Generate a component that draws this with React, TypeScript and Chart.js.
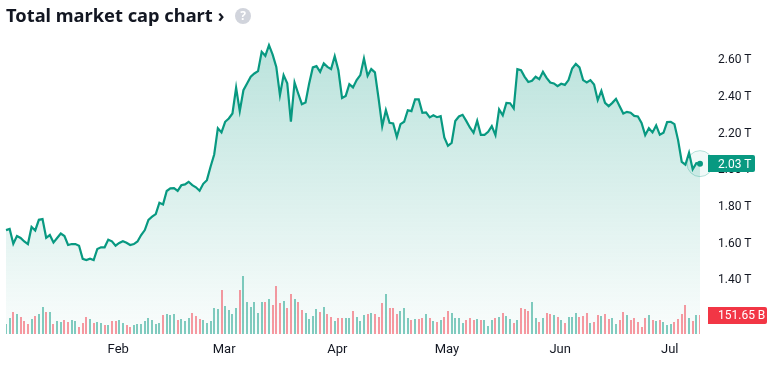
import React, { useEffect, useRef } from "react";
import { Chart, registerables } from "chart.js";

Chart.register(...registerables);

const titleText = "Total market cap chart";
const monthNames = ["Feb", "Mar", "Apr", "May", "Jun", "Jul"];
const monthStarts = [31, 60, 91, 121, 152, 182];
const priceTicks = [1.4, 1.6, 1.8, 2.0, 2.2, 2.4, 2.6];

// Total market cap, trillions (daily)
const marketCap = [
  1.669, 1.675, 1.595, 1.637, 1.626, 1.607, 1.593, 1.686, 1.667, 1.725,
  1.729, 1.627, 1.642, 1.601, 1.626, 1.650, 1.637, 1.588, 1.593, 1.593,
  1.584, 1.512, 1.506, 1.513, 1.506, 1.566, 1.575, 1.575, 1.617, 1.608,
  1.584, 1.599, 1.608, 1.600, 1.588, 1.593, 1.607, 1.642, 1.669, 1.725,
  1.742, 1.756, 1.818, 1.809, 1.882, 1.896, 1.898, 1.883, 1.913, 1.918,
  1.932, 1.914, 1.902, 1.883, 1.921, 1.941, 2.014, 2.081, 2.224, 2.201,
  2.259, 2.277, 2.304, 2.444, 2.317, 2.431, 2.468, 2.504, 2.522, 2.535,
  2.640, 2.618, 2.676, 2.625, 2.558, 2.404, 2.513, 2.468, 2.259, 2.473,
  2.413, 2.355, 2.364, 2.468, 2.555, 2.562, 2.531, 2.577, 2.558, 2.546,
  2.616, 2.540, 2.389, 2.400, 2.464, 2.446, 2.486, 2.513, 2.604, 2.509,
  2.546, 2.528, 2.386, 2.235, 2.322, 2.253, 2.250, 2.177, 2.246, 2.259,
  2.322, 2.317, 2.381, 2.381, 2.308, 2.310, 2.283, 2.294, 2.284, 2.290,
  2.174, 2.128, 2.144, 2.263, 2.288, 2.297, 2.264, 2.228, 2.199, 2.264,
  2.188, 2.188, 2.204, 2.235, 2.186, 2.326, 2.294, 2.362, 2.360, 2.332,
  2.546, 2.540, 2.504, 2.476, 2.482, 2.504, 2.491, 2.531, 2.498, 2.473,
  2.468, 2.453, 2.466, 2.460, 2.486, 2.549, 2.574, 2.555, 2.486, 2.473,
  2.486, 2.462, 2.377, 2.427, 2.362, 2.344, 2.362, 2.384, 2.344, 2.304,
  2.313, 2.308, 2.291, 2.288, 2.253, 2.186, 2.224, 2.201, 2.239, 2.188,
  2.199, 2.257, 2.259, 2.246, 2.159, 2.041, 2.025, 2.090, 2.000, 2.034,
  2.031,
];

// Traded volume, billions (daily)
const volumes = [
  80, 128, 176, 160, 136, 104, 80, 120, 144, 160,
  216, 176, 176, 80, 104, 96, 112, 96, 112, 104,
  56, 88, 136, 120, 88, 96, 88, 72, 72, 104,
  104, 112, 88, 72, 56, 72, 80, 80, 104, 128,
  112, 80, 88, 152, 160, 152, 160, 112, 120, 104,
  128, 168, 144, 120, 112, 88, 104, 208, 200, 352,
  224, 192, 160, 208, 352, 464, 256, 216, 256, 168,
  256, 256, 280, 232, 384, 248, 264, 208, 320, 280,
  256, 192, 168, 120, 144, 200, 176, 216, 160, 136,
  104, 128, 128, 128, 128, 184, 136, 104, 152, 160,
  168, 160, 136, 248, 320, 208, 208, 160, 184, 208,
  128, 112, 120, 120, 128, 160, 128, 104, 96, 112,
  136, 184, 168, 128, 128, 88, 112, 128, 112, 120,
  112, 112, 64, 112, 128, 136, 168, 144, 120, 88,
  112, 208, 200, 184, 256, 128, 96, 128, 168, 160,
  152, 136, 112, 88, 136, 136, 168, 136, 144, 168,
  88, 96, 152, 144, 160, 120, 128, 80, 112, 176,
  152, 112, 128, 96, 56, 128, 152, 112, 104, 112,
  96, 72, 80, 96, 120, 160, 232, 128, 104, 152,
  151.65,
];

// g = up day, r = down day, twenty days per row
const directionRows = [
  "ggrgrrrgrggrgrggrrgg",
  "rrrgrggrgrrggrrggggg",
  "gggrgggrgggrrrgggggr",
  "ggggrggggggrgrrrgrrg",
  "rrggggrgrrgrrggrgggr",
  "grrrgrrrgggrgrrgrgrg",
  "rrggggrrrgrgggrgrggr",
  "grrrggrgrrgrgrgggrrr",
  "grrgrrggrrgrrrrrgrgr",
  "gggrrrrgrgr",
];

const categories = marketCap.map((_, i) => {
  const at = monthStarts.indexOf(i);
  return at >= 0 ? monthNames[at] : String(i);
});

const GREEN = "#089981";
const RED = "#f23645";

const fmtPrice = (v: number) => v.toFixed(2) + " T";
const fmtVol = (v: number) => v.toFixed(2) + " B";

function tag(ctx: CanvasRenderingContext2D, x: number, cy: number, w: number, h: number, color: string, text: string) {
  ctx.save();
  ctx.fillStyle = color;
  ctx.beginPath();
  (ctx as any).roundRect(x, Math.round(cy - h / 2), w, h, [0, 2, 2, 0]);
  ctx.fill();
  ctx.fillStyle = "#ffffff";
  ctx.font = "12px Roboto";
  ctx.textAlign = "left";
  ctx.textBaseline = "middle";
  ctx.fillText(text, 718, Math.round(cy) + 1);
  ctx.restore();
}

const overlay = {
  id: "overlay",
  afterDatasetsUpdate(chart: any) {
    // keep the thin volume bars on whole pixels
    chart.getDatasetMeta(0).data.forEach((bar: any) => {
      bar.x = Math.round(bar.x);
    });
  },
  afterDraw(chart: any) {
    const { ctx, scales } = chart;
    const last = marketCap.length - 1;
    const x = scales.x.getPixelForValue(last);
    const y = scales.y.getPixelForValue(marketCap[last]);
    ctx.save();
    ctx.beginPath();
    ctx.arc(x, y, 13, 0, Math.PI * 2);
    ctx.fillStyle = "rgba(8,153,129,0.06)";
    ctx.fill();
    ctx.strokeStyle = "rgba(8,153,129,0.28)";
    ctx.lineWidth = 1;
    ctx.stroke();
    ctx.beginPath();
    ctx.arc(x, y, 3, 0, Math.PI * 2);
    ctx.fillStyle = GREEN;
    ctx.fill();
    ctx.restore();
    tag(ctx, 708, y, 47, 17, GREEN, fmtPrice(marketCap[last]));
    tag(ctx, 708, scales.y1.getPixelForValue(volumes[last]), 59, 17, RED, fmtVol(volumes[last]));
  },
};

export default function App() {
  const ref = useRef<HTMLCanvasElement>(null);
  useEffect(() => {
    const dirs = directionRows.join("");
    const chart = new Chart(ref.current as HTMLCanvasElement, {
      type: "bar",
      data: {
        labels: categories,
        datasets: [
          {
            type: "bar",
            data: volumes,
            yAxisID: "y1",
            barThickness: 2,
            inflateAmount: 0,
            order: 1,
            backgroundColor: volumes.map((_, i) => (dirs[i] === "g" ? "rgba(8,153,129,0.5)" : "rgba(242,54,69,0.5)")),
          },
          {
            type: "line",
            data: marketCap,
            yAxisID: "y",
            order: 2,
            borderColor: GREEN,
            borderWidth: 2.2,
            pointRadius: 0,
            tension: 0,
            clip: false,
            fill: "start",
            backgroundColor: (c: any) => {
              const area = c.chart.chartArea;
              if (!area) return "rgba(8,153,129,0.1)";
              const g = c.chart.ctx.createLinearGradient(0, 45, 0, area.bottom);
              g.addColorStop(0, "rgba(8,153,129,0.28)");
              g.addColorStop(1, "rgba(8,153,129,0.02)");
              return g;
            },
          },
        ] as any,
      },
      plugins: [overlay],
      options: {
        animation: false,
        responsive: false,
        layout: { padding: { left: 6, right: 0, top: 25, bottom: 0 } },
        plugins: { legend: { display: false }, tooltip: { enabled: false } },
        scales: {
          x: {
            type: "category",
            offset: false,
            grid: { display: false, drawTicks: false },
            border: { display: false },
            afterBuildTicks: (a: any) => {
              a.ticks = monthStarts.map((value) => ({ value }));
            },
            afterFit: (a: any) => {
              a.height = 42;
            },
            ticks: {
              autoSkip: false,
              maxRotation: 0,
              padding: 8,
              labelOffset: -1,
              color: "#131722",
              font: { family: "Roboto", size: 13 },
            },
          },
          y: {
            position: "right",
            min: 1.103,
            max: 2.785,
            grid: { display: false, drawTicks: false },
            border: { display: false },
            afterBuildTicks: (a: any) => {
              a.ticks = priceTicks.map((value) => ({ value }));
            },
            afterFit: (a: any) => {
              a.width = 72;
            },
            ticks: {
              padding: 18,
              labelOffset: 1,
              color: "#131722",
              font: { family: "Roboto", size: 12 },
              callback: (v: any) => fmtPrice(Number(v)),
            },
          },
          y1: {
            display: false,
            position: "right",
            min: 0,
            max: 2472,
          },
        },
      } as any,
    });
    return () => chart.destroy();
  }, []);

  return (
    <div style={{ position: "absolute", left: 0, top: 0, width: 772, height: 376, background: "#fff", overflow: "hidden" }}>
      <canvas ref={ref} width={772} height={376} style={{ display: "block" }} />
      <div
        style={{
          position: "absolute",
          left: 6,
          top: 1,
          font: "700 18.3px 'Noto Sans'",
          color: "#131722",
          lineHeight: "28px",
          whiteSpace: "nowrap",
        }}
      >
        {titleText}
        <span style={{ marginLeft: 5 }}>›</span>
      </div>
      <div
        style={{
          position: "absolute",
          left: 235,
          top: 8,
          width: 16,
          height: 16,
          borderRadius: 8,
          background: "#d1d4dc",
          color: "#fff",
          font: "700 12px/16px 'Noto Sans'",
          textAlign: "center",
        }}
      >
        ?
      </div>
    </div>
  );
}
